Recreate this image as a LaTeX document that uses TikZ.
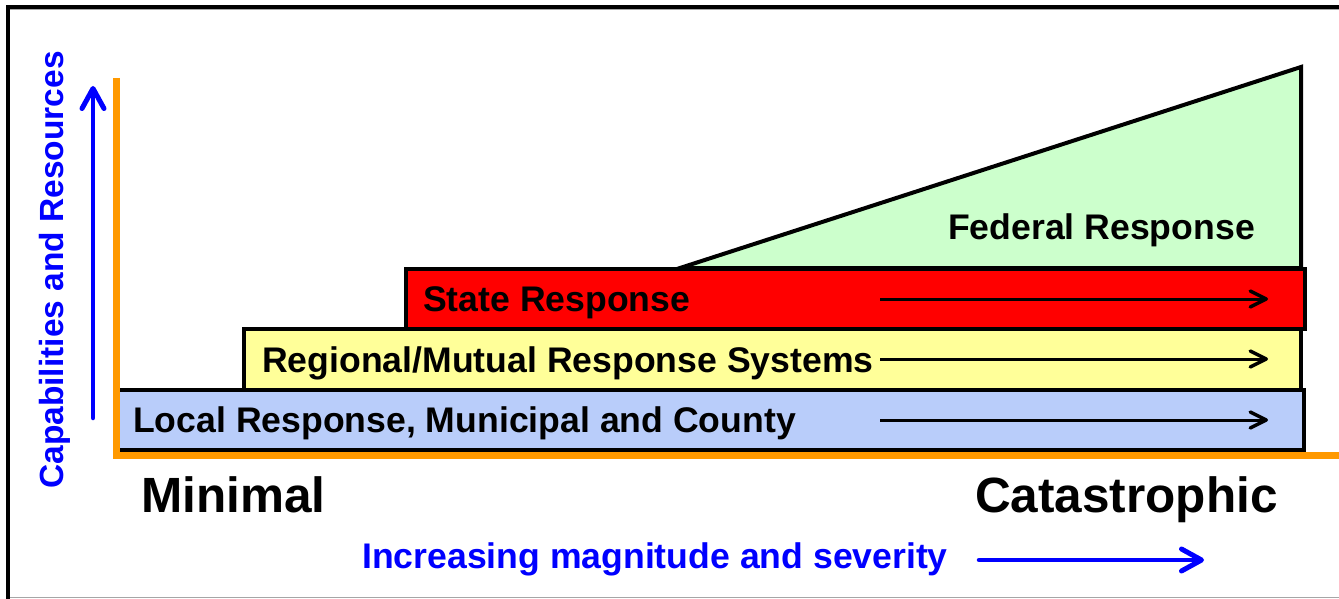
\documentclass[tikz,border=0pt]{standalone}
\usepackage{fontspec}
\setmainfont{Liberation Sans}
\usetikzlibrary{arrows.meta}
\definecolor{axisorange}{HTML}{FF9900}
\definecolor{localblue}{HTML}{B9CDFA}
\definecolor{regyellow}{HTML}{FFFF99}
\definecolor{fedgreen}{HTML}{CCFFCC}
\definecolor{txtblue}{HTML}{0000FF}
\tikzset{
  bar/.style={draw=black, line width=4pt},
  barlabel/.style={anchor=base west, inner sep=0pt, font=\fontsize{35.6}{40}\selectfont\bfseries},
  biglabel/.style={anchor=base west, inner sep=0pt, font=\fontsize{49.5}{55}\selectfont\bfseries},
  flowarrow/.style={draw=black, line width=3pt, -{Straight Barb[length=16pt,width=16pt,line width=3.5pt,round]}},
  bluearrow/.style={draw=txtblue, line width=4.5pt, line cap=round, -{Straight Barb[length=20pt,width=22pt,line width=5pt,round]}},
}
\begin{document}
\begin{tikzpicture}[x=1pt,y=-1pt]
\useasboundingbox (0,0) rectangle (1339,599);
% frame
\draw[line width=1.5pt, gray!70] (10,597.5) -- (1339,597.5);
\draw[line width=1pt, gray!70] (10,10) -- (1339,10);
\draw[line width=4pt, black] (7.5,599) -- (7.5,7.5) -- (1339,7.5);
% federal triangle
\draw[bar, fill=fedgreen, line join=miter] (680,268) -- (1301,67) -- (1301,268) -- cycle;
% bars
\draw[bar, fill=localblue] (118,390) rectangle (1304,450);
\draw[bar, fill=regyellow] (244,329) rectangle (1301,390);
\draw[bar, fill=red] (406,269) rectangle (1305,329);
% axes
\draw[axisorange, line width=7pt] (116,78) -- (116,455) -- (1339,455);
% labels
\node[barlabel] (fed) at (948,239) {Federal Response};
\node[barlabel] (state) at (423,311) {State Response};
\node[barlabel] (reg) at (262,372) {Regional/Mutual Response Systems};
\node[barlabel] (loc) at (133,432) {Local Response, Municipal and County};
\coordinate (s1) at (880,299); \coordinate (s2) at (1268,299);
\coordinate (r1) at (880,359); \coordinate (r2) at (1268,359);
\coordinate (l1) at (880,420); \coordinate (l2) at (1268,420);
\draw[flowarrow] (s1) -- (s2);
\draw[flowarrow] (r1) -- (r2);
\draw[flowarrow] (l1) -- (l2);
\node[biglabel] (min) at (141,512) {Minimal};
\node[biglabel] (cat) at (975,512) {Catastrophic};
\node[barlabel, text=txtblue] (inc) at (362,568) {Increasing magnitude and severity};
\node[anchor=base, inner sep=0pt, rotate=90, text=txtblue, font=\fontsize{33.5}{38}\selectfont\bfseries] (cap) at (63,270) {Capabilities and Resources};
\coordinate (b1) at (979,560); \coordinate (b2) at (1204,560);
\draw[bluearrow] (b1) -- (b2);
\coordinate (u1) at (93,418); \coordinate (u2) at (93,86);
\draw[bluearrow] (u1) -- (u2);
\end{tikzpicture}
\end{document}
